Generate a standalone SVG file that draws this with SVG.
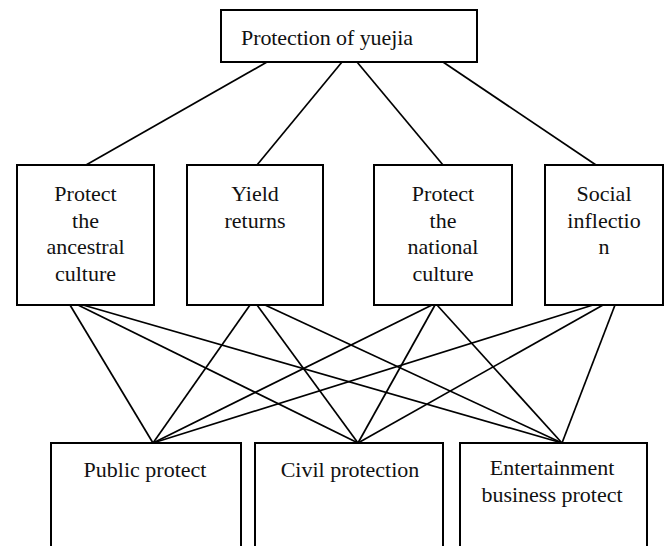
<svg xmlns="http://www.w3.org/2000/svg" width="668" height="546" viewBox="0 0 668 546">
<style>
.box{fill:#fff;stroke:#000;stroke-width:2}
.t{font-family:"Liberation Serif","Times New Roman",serif;font-size:22px;fill:#111}
.c{text-anchor:middle}
.ln{stroke:#000;stroke-width:1.7;fill:none}
</style>
<rect width="668" height="546" fill="#fff"/>
<g id="connectors" class="ln">
<line x1="267" y1="62" x2="86" y2="165"/>
<line x1="342" y1="62" x2="257" y2="165"/>
<line x1="357" y1="62" x2="443" y2="165"/>
<line x1="443" y1="62" x2="596" y2="165"/>
<line x1="70" y1="305" x2="153" y2="443"/>
<line x1="78" y1="305" x2="358" y2="443"/>
<line x1="83" y1="305" x2="562" y2="443"/>
<line x1="250" y1="305" x2="153" y2="443"/>
<line x1="257" y1="305" x2="358" y2="443"/>
<line x1="265" y1="305" x2="562" y2="443"/>
<line x1="432" y1="305" x2="153" y2="443"/>
<line x1="435" y1="305" x2="358" y2="443"/>
<line x1="437" y1="305" x2="562" y2="443"/>
<line x1="593" y1="305" x2="153" y2="443"/>
<line x1="603" y1="305" x2="358" y2="443"/>
<line x1="615" y1="305" x2="562" y2="443"/>
</g>
<g id="root">
<rect class="box" x="221" y="10" width="256" height="52"/>
<text class="t" x="241" y="45" textLength="172">Protection of yuejia</text>
</g>
<g id="ancestral">
<rect class="box" x="17" y="165" width="137" height="140"/>
<text class="t c" x="85.5" y="201">Protect</text>
<text class="t c" x="85.5" y="227.5">the</text>
<text class="t c" x="85.5" y="254">ancestral</text>
<text class="t c" x="85.5" y="280.5">culture</text>
</g>
<g id="yield">
<rect class="box" x="187" y="165" width="136" height="140"/>
<text class="t c" x="255" y="201">Yield</text>
<text class="t c" x="255" y="227.5">returns</text>
</g>
<g id="national">
<rect class="box" x="374" y="165" width="138" height="140"/>
<text class="t c" x="443" y="201">Protect</text>
<text class="t c" x="443" y="227.5">the</text>
<text class="t c" x="443" y="254">national</text>
<text class="t c" x="443" y="280.5">culture</text>
</g>
<g id="social">
<rect class="box" x="545" y="165" width="118" height="140"/>
<text class="t c" x="604" y="201">Social</text>
<text class="t c" x="604" y="227.5">inflectio</text>
<text class="t c" x="604" y="254">n</text>
</g>
<g id="public">
<rect class="box" x="51" y="443" width="190" height="130"/>
<text class="t c" x="145" y="477">Public protect</text>
</g>
<g id="civil">
<rect class="box" x="255" y="443" width="188" height="130"/>
<text class="t c" x="350" y="477">Civil protection</text>
</g>
<g id="entertainment">
<rect class="box" x="460" y="443" width="187" height="130"/>
<text class="t c" x="552" y="475">Entertainment</text>
<text class="t c" x="552" y="502">business protect</text>
</g>
</svg>
